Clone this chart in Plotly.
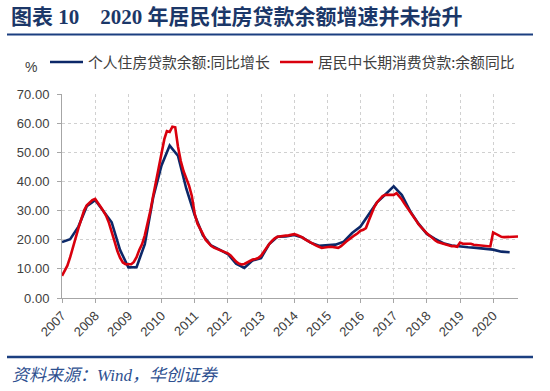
import calendar
import plotly.graph_objects as go

# ---------------- data ----------------
title_text = "图表\u00a010\u00a0\u00a0\u00a0\u00a02020\u00a0年居民住房贷款余额增速并未抬升"
source_text = "资料来源：Wind，华创证券"
unit_label = "%"
name_housing = "个人住房贷款余额:同比增长"
name_consumer = "居民中长期消费贷款:余额同比"

year_ticks = ["2007", "2008", "2009", "2010", "2011", "2012", "2013",
              "2014", "2015", "2016", "2017", "2018", "2019", "2020"]
y_ticks = [0, 10, 20, 30, 40, 50, 60, 70]

# 居民中长期消费贷款:余额同比, monthly, Dec-2006 .. Sep-2020
consumer_start = (2006, 12)
consumer_yoy = [
    7.6,
    9.5, 11.1, 14.0, 17.5, 20.8, 24.0, 27.0, 30.0, 31.8, 32.8, 33.6, 34.0,   # 2007
    32.8, 31.3, 29.8, 28.2, 25.8, 23.0, 19.5, 16.2, 13.8, 12.2, 11.6, 11.6,  # 2008
    11.6, 12.3, 14.0, 16.5, 18.5, 21.5, 25.5, 30.0, 35.0, 40.0, 45.0, 49.0,  # 2009
    54.5, 57.3, 57.0, 58.8, 58.6, 52.0, 47.0, 43.5, 41.0, 38.5, 35.0, 29.0,  # 2010
    25.5, 24.0, 22.0, 20.0, 18.8, 17.9, 17.3, 16.9, 16.5, 16.1, 15.7, 15.3,  # 2011
    14.6, 13.5, 12.5, 11.8, 11.5, 11.7, 12.2, 12.9, 13.2, 13.4, 13.7, 14.5,  # 2012
    16.0, 17.3, 18.5, 19.6, 20.5, 21.0, 21.2, 21.3, 21.4, 21.5, 21.8, 21.9,  # 2013
    21.6, 21.3, 20.8, 20.1, 19.5, 19.0, 18.5, 18.0, 17.6, 17.2, 17.3, 17.5,  # 2014
    17.6, 17.5, 17.3, 17.2, 17.8, 18.8, 19.5, 20.2, 21.0, 21.6, 22.2, 23.1,  # 2015
    23.4, 24.0, 26.5, 29.2, 31.2, 32.8, 34.0, 35.0, 35.4, 35.4, 35.3, 35.4,  # 2016
    36.0, 35.0, 33.8, 32.3, 31.0, 29.7, 28.3, 26.8, 25.3, 24.2, 23.0, 22.2,  # 2017
    21.4, 20.5, 19.8, 19.2, 18.9, 18.6, 18.2, 17.9, 17.8, 17.8, 17.6, 19.0,  # 2018
    18.6, 18.6, 18.7, 18.6, 18.3, 18.2, 18.0, 17.9, 17.8, 17.7, 17.7, 22.5,  # 2019
    22.0, 21.4, 21.0, 20.9, 20.9, 21.0, 21.1, 21.1, 21.1,                    # 2020
]

# 个人住房贷款余额:同比增长, quarterly, Dec-2006 .. Jun-2020
housing_start = (2006, 12)
housing_yoy = [
    19.2,
    20.2, 24.5, 31.5, 33.6,   # 2007
    30.0, 26.0, 16.5, 10.5,   # 2008
    10.6, 18.5, 34.5, 45.5,   # 2009
    52.3, 48.8, 37.5, 28.5,   # 2010
    21.5, 18.0, 16.6, 15.1,   # 2011
    11.8, 10.3, 12.9, 13.7,   # 2012
    18.5, 21.0, 21.1, 21.6,   # 2013
    20.8, 19.0, 17.9, 18.0,   # 2014
    18.3, 19.3, 22.3, 24.5,   # 2015
    28.5, 32.8, 35.5, 38.3,   # 2016
    35.3, 29.8, 25.5, 22.0,   # 2017
    20.3, 18.8, 18.0, 17.6,   # 2018
    17.4, 17.2, 16.9, 16.6,   # 2019
    15.9, 15.7,               # 2020
]


def month_end_dates(start, count, step):
    y, m = start
    out = []
    for _ in range(count):
        out.append(f"{y}-{m:02d}-{calendar.monthrange(y, m)[1]:02d}")
        m += step
        while m > 12:
            m -= 12
            y += 1
    return out


consumer_dates = month_end_dates(consumer_start, len(consumer_yoy), 1)
housing_dates = month_end_dates(housing_start, len(housing_yoy), 3)

# ---------------- style ----------------
NAVY = "#0C2868"
RED = "#D9000D"
RULE = "#1B3F80"
TEXT = "#404040"
AXIS = "#A6A6A6"
GRID = "#D0D0D0"

W, H = 550, 391
L, R, T, B = 62, 32, 94, 93
PW, PH = W - L - R, H - T - B


def px_x(px):
    return (px - L) / PW


def px_y(py):
    return (H - B - py) / PH


fig = go.Figure()
fig.add_trace(go.Scatter(x=housing_dates, y=housing_yoy, mode="lines",
                         name=name_housing, line=dict(color=NAVY, width=2.6)))
fig.add_trace(go.Scatter(x=consumer_dates, y=consumer_yoy, mode="lines",
                         name=name_consumer, line=dict(color=RED, width=2.6)))

tick_vals = [f"{y}-01-01" for y in year_ticks]

fig.update_layout(
    width=W, height=H,
    margin=dict(l=L, r=R, t=T, b=B, pad=0),
    paper_bgcolor="white", plot_bgcolor="white",
    showlegend=False,
    font=dict(family="Liberation Sans, Noto Sans CJK SC", size=13, color=TEXT),
    xaxis=dict(
        type="date",
        range=[consumer_dates[0], consumer_dates[-1]],
        tickmode="array", tickvals=tick_vals, ticktext=year_ticks,
        tickangle=-45,
        showgrid=True, gridcolor=GRID, griddash="dot", gridwidth=1,
        showline=True, linecolor=AXIS, linewidth=1,
        ticks="outside", ticklen=4, tickcolor=AXIS,
        tickfont=dict(family="Liberation Sans", size=13, color=TEXT),
        zeroline=False, fixedrange=True,
    ),
    yaxis=dict(
        range=[0, 70], tickmode="array", tickvals=y_ticks,
        tickformat=".2f",
        showgrid=True, gridcolor=GRID, griddash="dot", gridwidth=1,
        showline=True, linecolor=AXIS, linewidth=1,
        ticks="outside", ticklen=4, tickcolor=AXIS,
        ticklabelstandoff=5,
        tickfont=dict(family="Liberation Sans", size=13, color=TEXT),
        zeroline=False, fixedrange=True,
    ),
)

shapes = [
    # rule under the title
    dict(type="line", xref="paper", yref="paper",
         x0=px_x(7), x1=px_x(533), y0=px_y(34.5), y1=px_y(34.5),
         line=dict(color=RULE, width=2.2)),
    # rule above the source
    dict(type="line", xref="paper", yref="paper",
         x0=px_x(7), x1=px_x(533), y0=px_y(357), y1=px_y(357),
         line=dict(color=RULE, width=2.6)),
    # legend samples
    dict(type="line", xref="paper", yref="paper",
         x0=px_x(50), x1=px_x(83), y0=px_y(62), y1=px_y(62),
         line=dict(color=NAVY, width=2.6)),
    dict(type="line", xref="paper", yref="paper",
         x0=px_x(280), x1=px_x(313), y0=px_y(62), y1=px_y(62),
         line=dict(color=RED, width=2.6)),
]

annotations = [
    dict(text="<b>" + title_text + "</b>", xref="paper", yref="paper",
         x=px_x(9), y=px_y(17), xanchor="left", yanchor="middle", showarrow=False,
         font=dict(family="Liberation Serif, Noto Sans CJK SC", size=21, color="#1B3768")),
    dict(text=unit_label, xref="paper", yref="paper",
         x=px_x(31), y=px_y(67), xanchor="center", yanchor="middle", showarrow=False,
         font=dict(family="Liberation Sans", size=14, color=TEXT)),
    dict(text=name_housing, xref="paper", yref="paper",
         x=px_x(86), y=px_y(62), xanchor="left", yanchor="middle", showarrow=False,
         font=dict(family="Noto Sans CJK SC", size=14.8, color=TEXT)),
    dict(text=name_consumer, xref="paper", yref="paper",
         x=px_x(316), y=px_y(62), xanchor="left", yanchor="middle", showarrow=False,
         font=dict(family="Noto Sans CJK SC", size=14.8, color=TEXT)),
    dict(text="<i>" + source_text + "</i>", xref="paper", yref="paper",
         x=px_x(10), y=px_y(375), xanchor="left", yanchor="middle", showarrow=False,
         font=dict(family="Liberation Serif, Noto Sans CJK SC", size=17, color="#2E5090")),
]

fig.update_layout(shapes=shapes, annotations=annotations)
fig.write_html(
    "out.html",
    config={"displayModeBar": False, "staticPlot": True},
    post_script="document.body.style.margin='0';document.body.style.padding='0';",
)
